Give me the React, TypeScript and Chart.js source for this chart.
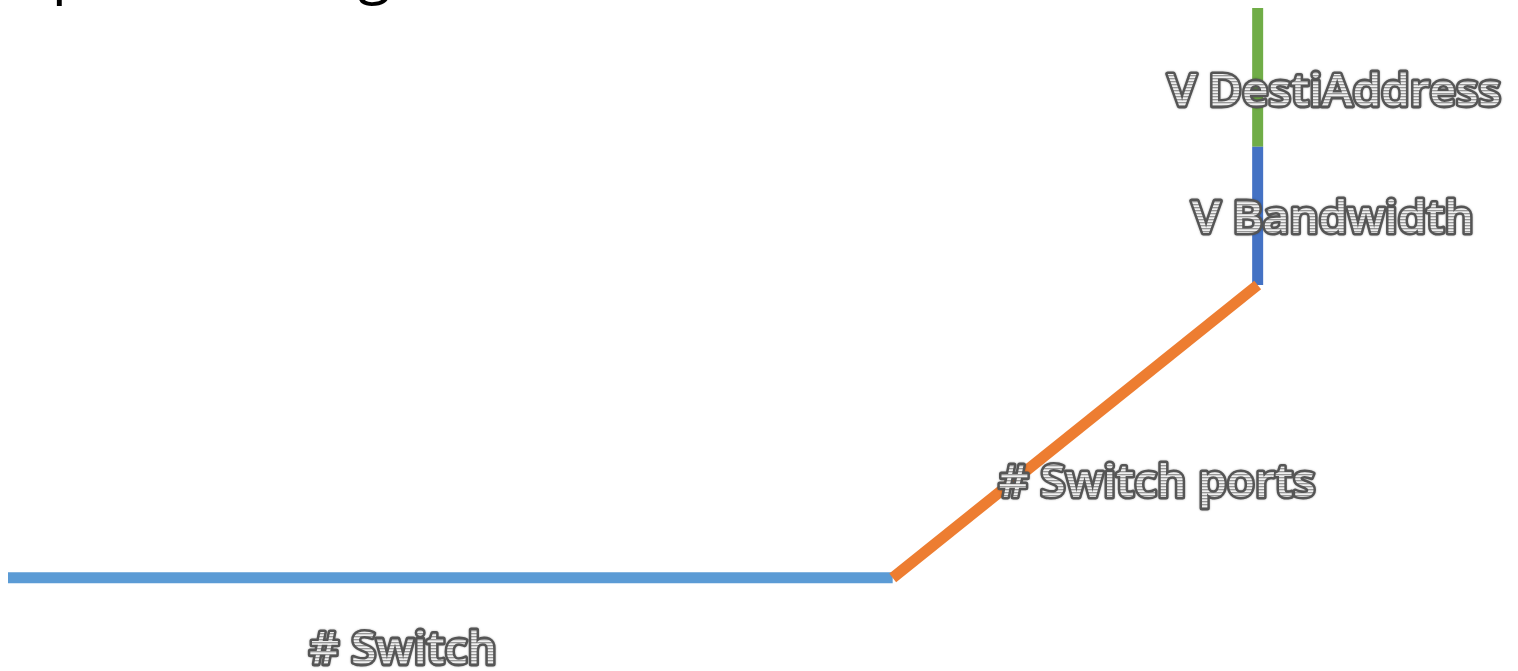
import React, { useEffect, useRef } from "react";
import { Chart, registerables } from "chart.js";

Chart.register(...registerables);

// Series (x, y in percent of the plot range)
const seriesNames = ["# Switch", "# Switch ports", "V Bandwidth", "V DestiAddress"];
const switchX = [0, 58.9];
const switchY = [13.0, 13.0];
const portsX = [58.9, 83.2];
const portsY = [13.0, 57.7];
const bandwidthX = [83.2, 83.2];
const bandwidthY = [57.7, 78.8];
const destX = [83.2, 83.2];
const destY = [78.8, 100];

// Label anchors (data units)
const labelX = [26.3, 76.5, 88.2, 88.3];
const labelY = [-0.2, 25.3, 65.6, 85.0];

const titleText = "Upscale design";

const colors = ["#5B9BD5", "#ED7D31", "#4472C4", "#70AD47"];

function pts(xs: number[], ys: number[]) {
  return xs.map((x, i) => ({ x, y: ys[i] }));
}

export default function App() {
  const ref = useRef<HTMLCanvasElement | null>(null);

  useEffect(() => {
    document.body.style.margin = "0";
    document.body.style.overflow = "hidden";
    const canvas = ref.current;
    if (!canvas) return;

    const pc = document.createElement("canvas");
    pc.width = 4;
    pc.height = 3;
    const pctx = pc.getContext("2d")!;
    pctx.fillStyle = "#979797";
    pctx.fillRect(0, 0, 4, 1);
    pctx.fillStyle = "#d4d4d4";
    pctx.fillRect(0, 1, 4, 1);
    pctx.fillStyle = "#f0f0f0";
    pctx.fillRect(0, 2, 4, 1);

    const labelPlugin = {
      id: "labels",
      afterDraw(chart: any) {
        const ctx = chart.ctx as CanvasRenderingContext2D;
        const xs = chart.scales.x;
        const ys = chart.scales.y;
        ctx.save();
        const pattern = ctx.createPattern(pc, "repeat");
        ctx.font = "600 46px 'Open Sans'";
        ctx.textAlign = "center";
        ctx.textBaseline = "alphabetic";
        ctx.lineJoin = "round";
        seriesNames.forEach((name, i) => {
          const px = xs.getPixelForValue(labelX[i]);
          const py = ys.getPixelForValue(labelY[i]);
          ctx.shadowColor = "rgba(0,0,0,0.35)";
          ctx.shadowBlur = 2;
          ctx.strokeStyle = "#555555";
          ctx.lineWidth = 5;
          ctx.strokeText(name, px, py);
          ctx.shadowColor = "transparent";
          ctx.shadowBlur = 0;
          if (pattern) ctx.fillStyle = pattern;
          ctx.fillText(name, px, py);
        });
        // title, mostly above the visible page
        ctx.font = "400 60px 'Open Sans'";
        ctx.textAlign = "left";
        ctx.fillStyle = "#000000";
        ctx.fillText(titleText, 8, -8);
        ctx.restore();
      },
    };

    const chart = new Chart(canvas, {
      type: "scatter",
      data: {
        datasets: [
          { label: seriesNames[0], data: pts(switchX, switchY), order: 1 },
          { label: seriesNames[1], data: pts(portsX, portsY), order: 0 },
          { label: seriesNames[2], data: pts(bandwidthX, bandwidthY), order: 2 },
          { label: seriesNames[3], data: pts(destX, destY), order: 3 },
        ].map((d, i) => ({
          ...d,
          showLine: true,
          borderColor: colors[i],
          backgroundColor: colors[i],
          borderWidth: 11,
          borderCapStyle: "butt" as const,
          pointRadius: 0,
          pointHoverRadius: 0,
          tension: 0,
        })),
      },
      options: {
        animation: false,
        responsive: false,
        devicePixelRatio: 1,
        layout: { padding: { left: 8, top: 8, right: 8, bottom: 8 } },
        plugins: {
          legend: { display: false },
          tooltip: { enabled: false },
          title: { display: false },
        },
        events: [],
        scales: {
          x: { type: "linear", min: 0, max: 100, display: false },
          y: { type: "linear", min: 0, max: 100, display: false },
        },
      },
      plugins: [labelPlugin],
    });

    return () => chart.destroy();
  }, []);

  return (
    <canvas
      ref={ref}
      width={1518}
      height={671}
      style={{ display: "block", width: 1518, height: 671 }}
    />
  );
}
